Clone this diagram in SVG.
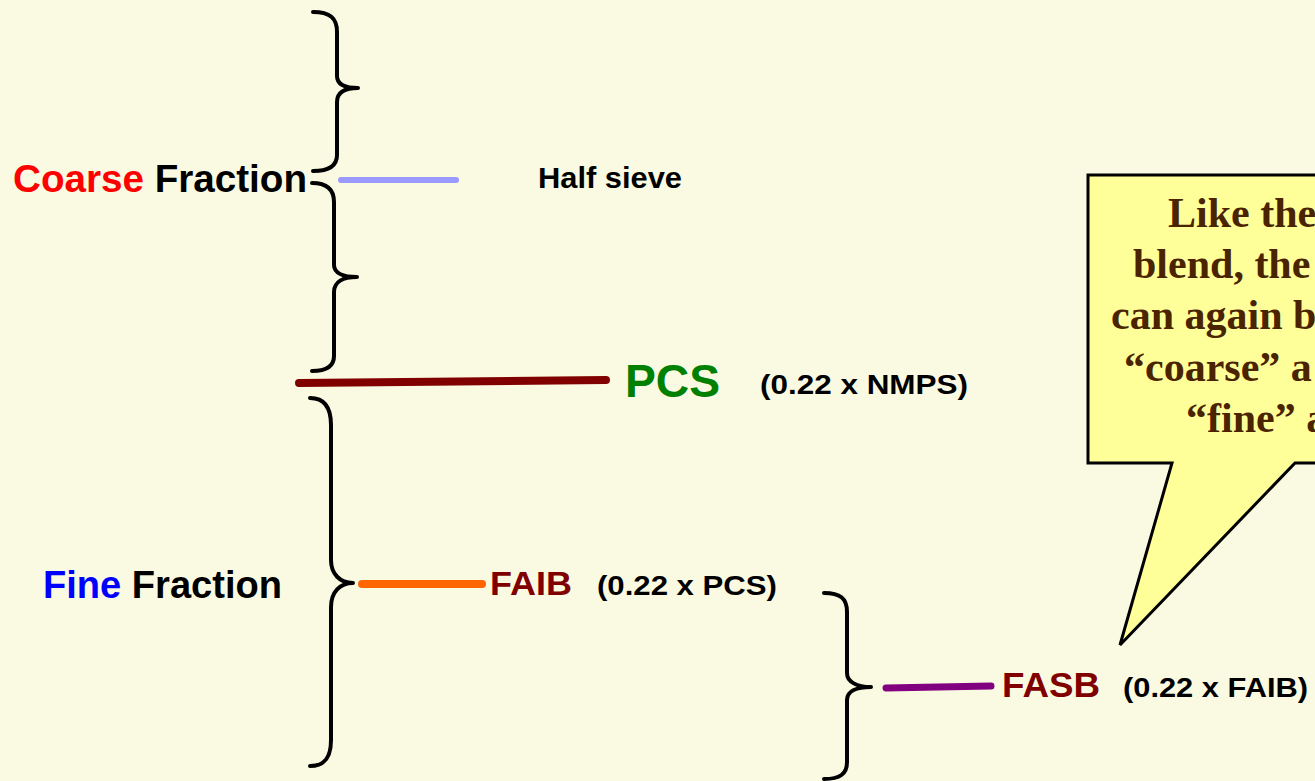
<svg xmlns="http://www.w3.org/2000/svg" width="1315" height="781" viewBox="0 0 1315 781">
<style>
.brace{fill:none;stroke:#000;stroke-width:4;stroke-linecap:round;stroke-linejoin:round}
.bar{fill:none;stroke-linecap:round}
.sans{font-family:"Liberation Sans",Arial,sans-serif;font-weight:bold}
.serif{font-family:"Liberation Serif","Times New Roman",serif;font-weight:bold;font-size:42px;fill:#4A2400}
</style>
<rect width="1315" height="781" fill="#FAFAE2"/>
<g id="braces">
<path class="brace" d="M313,12 C330,12 337,18 337,32 L337,76 C337,84 345,88 358,88 C345,88 337,92 337,102 L337,155 C337,166 328,171 313,171"/>
<path class="brace" d="M312,183 C327,183 334,190 334,202 L334,265 C334,273 343,277 357,277 C343,277 334,282 334,292 L334,356 C334,366 326,371 312,371"/>
<path class="brace" d="M310,398 C325,398 331,408 331,425 L331,560 C331,574 340,583 353,583 C340,583 331,592 331,607 L331,740 C331,757 325,766 310,766"/>
<path class="brace" d="M824,593 C840,593 847,598 847,612 L847,673 C847,682 857,687 871,687 C857,687 847,691 847,700 L847,762 C847,774 840,779 824,779"/>
</g>
<g id="connectors">
<line class="bar" x1="341" y1="180" x2="456" y2="180" stroke="#9999FF" stroke-width="6"/>
<line class="bar" x1="299" y1="383" x2="606" y2="380" stroke="#800000" stroke-width="8"/>
<line class="bar" x1="362" y1="584" x2="482" y2="584" stroke="#FF6600" stroke-width="8"/>
<line class="bar" x1="886" y1="688" x2="991" y2="686" stroke="#800080" stroke-width="7"/>
</g>
<g id="coarse-label">
<text class="sans" x="13" y="192" font-size="38" textLength="294" lengthAdjust="spacingAndGlyphs"><tspan fill="#FF0000">Coarse </tspan><tspan fill="#000">Fraction</tspan></text>
</g>
<g id="half-sieve">
<text class="sans" x="538" y="188" font-size="29" fill="#000" textLength="144" lengthAdjust="spacingAndGlyphs">Half sieve</text>
</g>
<g id="pcs">
<text class="sans" x="625" y="397" font-size="47" fill="#008000" textLength="95" lengthAdjust="spacingAndGlyphs">PCS</text>
<text class="sans" x="760" y="394" font-size="28" fill="#000" textLength="208" lengthAdjust="spacingAndGlyphs">(0.22 x NMPS)</text>
</g>
<g id="fine-label">
<text class="sans" x="43" y="598" font-size="38" textLength="239" lengthAdjust="spacingAndGlyphs"><tspan fill="#0000FF">Fine </tspan><tspan fill="#000">Fraction</tspan></text>
</g>
<g id="faib">
<text class="sans" x="490" y="595" font-size="33" fill="#800000" textLength="82" lengthAdjust="spacingAndGlyphs">FAIB</text>
<text class="sans" x="597" y="595" font-size="28" fill="#000" textLength="180" lengthAdjust="spacingAndGlyphs">(0.22 x PCS)</text>
</g>
<g id="fasb">
<text class="sans" x="1002" y="697" font-size="35" fill="#800000" textLength="98" lengthAdjust="spacingAndGlyphs">FASB</text>
<text class="sans" x="1123" y="697" font-size="28" fill="#000" textLength="185" lengthAdjust="spacingAndGlyphs">(0.22 x FAIB)</text>
</g>
<g id="callout">
<path d="M1088,175 L1330,175 L1330,463 L1295,463 L1120,645 L1172,463 L1088,463 Z" fill="#FFFF99" stroke="#000" stroke-width="3" stroke-linejoin="miter"/>
<text class="serif" x="1168" y="227">Like the</text>
<text class="serif" x="1133" y="278">blend, the</text>
<text class="serif" x="1111" y="329">can again b</text>
<text class="serif" x="1124" y="381">“coarse” a</text>
<text class="serif" x="1186" y="432">“fine” a</text>
</g>
</svg>
